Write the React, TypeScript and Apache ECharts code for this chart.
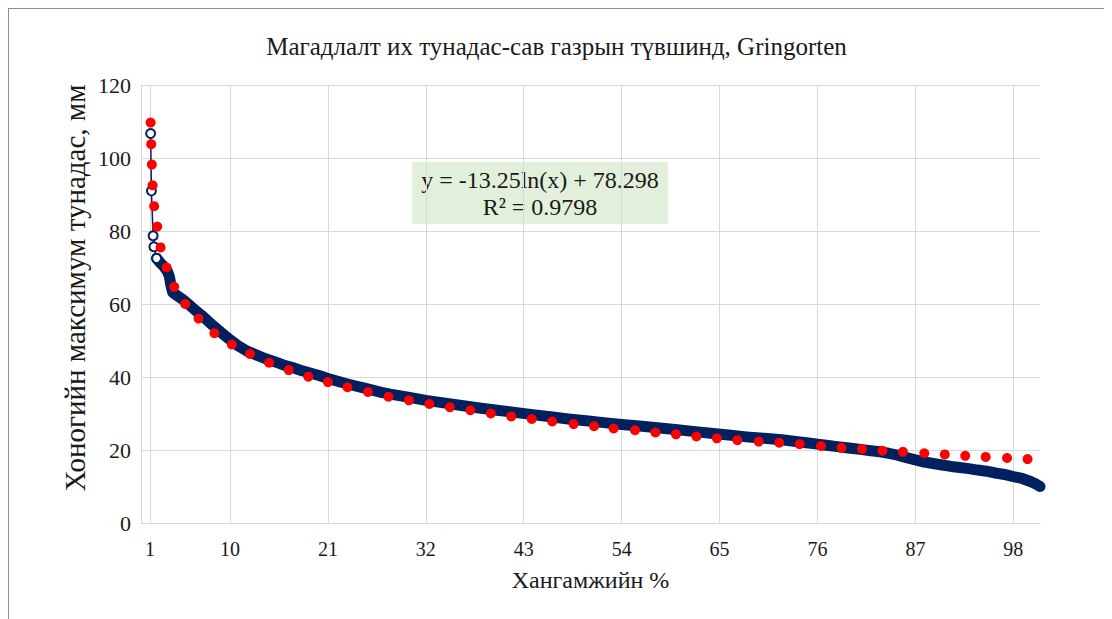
import React, { useEffect, useRef } from 'react';
import * as echarts from 'echarts';

const TITLE = 'Магадлалт их тунадас-сав газрын түвшинд, Gringorten';
const Y_NAME = 'Хоногийн максимум тунадас, мм';
const X_NAME = 'Хангамжийн %';
const EQUATION_LINE1 = 'y = -13.25ln(x) + 78.298';
const EQUATION_LINE2 = 'R² = 0.9798';

// x-axis tick labels (gridlines) and axis range
const X_TICK_LABELS = [1, 10, 21, 32, 43, 54, 65, 76, 87, 98];
const X_MIN = 0;
const X_MAX = 101;
const Y_MIN = 0;
const Y_MAX = 120;
const Y_STEP = 20;

// Observed series (navy): sparse head points
const headX = [1.08, 1.17, 1.36, 1.45, 1.75];
const headY = [106.7, 91.0, 78.7, 75.7, 72.5];

// Observed series (navy): dense body
const bodyX = [
  1.75, 2.2, 2.6, 3.0, 3.2, 3.35, 3.55, 4.0, 4.7, 5.5, 6.0, 7.0, 8.0, 9.0, 10.0, 11.0,
  12, 13, 14, 15, 16, 17, 18, 19, 20, 21, 22, 23, 24, 25, 26, 27, 28, 29, 30,
  32, 34, 36, 38, 40, 42, 44, 46, 48, 50, 52, 54, 56, 58, 60, 62, 64, 66, 68, 70, 72,
  74, 75, 76, 77, 78, 79, 80, 81, 82, 83, 84, 85, 86, 87, 88, 89, 90, 91, 92, 93, 94,
  95, 96, 97, 98, 99, 100, 100.6, 101,
];
const bodyY = [
  72.5, 71.2, 70.2, 68.8, 67.4, 65.2, 63.2, 62.4, 61.2, 59.6, 58.5, 56.5, 54.3, 52.2, 50.2, 48.4,
  47.0, 46.0, 45.0, 44.2, 43.3, 42.6, 41.8, 41.1, 40.4, 39.6, 38.9, 38.2, 37.6, 37.0, 36.4, 35.8, 35.3, 34.9, 34.5,
  33.6, 32.9, 32.2, 31.5, 30.9, 30.3, 29.7, 29.1, 28.5, 28.0, 27.5, 27.0, 26.6, 26.1, 25.6, 25.1, 24.6, 24.1, 23.6, 23.2, 22.8,
  22.2, 21.9, 21.6, 21.3, 21.0, 20.7, 20.4, 20.1, 19.8, 19.5, 19.1, 18.6, 17.9, 17.3, 16.7, 16.3, 15.9, 15.5, 15.2, 14.9, 14.5,
  14.2, 13.7, 13.3, 12.7, 12.2, 11.3, 10.6, 10.0,
];

// Red points
const redX = [
  1.08, 1.15, 1.22, 1.3, 1.48, 1.82, 2.2, 2.88, 3.73, 4.97, 6.47, 8.25, 10.2,
  12.24, 14.4, 16.6, 18.8, 21.0, 23.2, 25.5, 27.8, 30.1, 32.4, 34.7, 37.0, 39.3, 41.6,
  43.9, 46.2, 48.6, 50.9, 53.1, 55.5, 57.8, 60.1, 62.4, 64.7, 67.0, 69.4, 71.7, 74.0,
  76.4, 78.7, 81.0, 83.3, 85.6, 88.0, 90.3, 92.6, 94.9, 97.3, 99.6,
];
const redY = [
  109.7, 103.8, 98.2, 92.5, 86.8, 81.2, 75.5, 70.0, 64.7, 60.0, 56.0, 52.0, 48.9,
  46.3, 43.9, 41.9, 40.1, 38.6, 37.2, 35.9, 34.6, 33.6, 32.6, 31.7, 30.9, 30.0, 29.2,
  28.5, 27.8, 27.1, 26.5, 25.9, 25.4, 24.8, 24.3, 23.7, 23.2, 22.7, 22.3, 22.0, 21.6,
  21.1, 20.6, 20.3, 19.8, 19.5, 19.1, 18.8, 18.4, 18.1, 17.8, 17.5,
];

const NAVY = '#002060';
const RED = '#ff0000';
const GRID = '#d9d9d9';
const TEXT = '#1a1a1a';
const SERIF = 'Liberation Serif';

const pairs = (xs: number[], ys: number[]) => xs.map((x, i) => [x, ys[i]]);

export default function App() {
  const ref = useRef<HTMLDivElement>(null);

  useEffect(() => {
    document.documentElement.style.overflow = 'hidden';
    document.body.style.overflow = 'hidden';
    if (!ref.current) return;
    const chart = echarts.init(ref.current, undefined, { renderer: 'svg' });
    const categories = Array.from({ length: X_MAX - X_MIN + 1 }, (_, i) => String(X_MIN + i));
    const showTick = (index: number) => X_TICK_LABELS.includes(X_MIN + index);

    chart.setOption({
      animation: false,
      textStyle: { fontFamily: SERIF },
      title: {
        text: TITLE,
        left: 'center',
        top: 20,
        textStyle: { fontFamily: SERIF, fontSize: 25, fontWeight: 'normal', color: TEXT },
      },
      grid: { left: 132, right: 64, top: 76, bottom: 88, containLabel: false },
      xAxis: [
        {
          type: 'category',
          data: categories,
          boundaryGap: false,
          name: X_NAME,
          nameLocation: 'middle',
          nameGap: 45,
          nameTextStyle: { fontFamily: SERIF, fontSize: 24, color: TEXT },
          axisLine: { show: true, lineStyle: { color: GRID, width: 1 } },
          axisTick: { show: false, interval: showTick },
          axisLabel: { interval: showTick, margin: 16, fontFamily: SERIF, fontSize: 20, color: TEXT },
          splitLine: { show: true, interval: showTick, lineStyle: { color: GRID, width: 1 } },
        },
        { type: 'value', min: X_MIN, max: X_MAX, show: false, splitLine: { show: false } },
      ],
      yAxis: {
        type: 'value',
        min: Y_MIN,
        max: Y_MAX,
        interval: Y_STEP,
        axisLine: { show: true, lineStyle: { color: GRID, width: 1 } },
        axisTick: { show: false },
        axisLabel: { margin: 10, fontFamily: SERIF, fontSize: 22, color: TEXT },
        splitLine: { show: true, lineStyle: { color: GRID, width: 1 } },
      },
      graphic: [
        {
          type: 'text',
          x: 66,
          y: 279,
          rotation: Math.PI / 2,
          style: {
            text: Y_NAME,
            fontFamily: SERIF,
            fontSize: 29,
            fill: TEXT,
            align: 'center',
            verticalAlign: 'middle',
          },
        },
        {
          type: 'group',
          z: 100,
          children: [
            {
              type: 'rect',
              shape: { x: 403, y: 153, width: 256, height: 62 },
              style: { fill: '#e2efda' },
            },
            {
              type: 'text',
              x: 531,
              y: 184,
              style: {
                text: EQUATION_LINE1 + '\n' + EQUATION_LINE2,
                fontFamily: SERIF,
                fontSize: 24,
                lineHeight: 27,
                fill: TEXT,
                align: 'center',
                verticalAlign: 'middle',
              },
            },
          ],
        },
      ],
      series: [
        {
          type: 'line',
          xAxisIndex: 1,
          data: pairs(bodyX, bodyY),
          showSymbol: false,
          lineStyle: { color: NAVY, width: 11, cap: 'round', join: 'round' },
          z: 2,
        },
        {
          type: 'line',
          xAxisIndex: 1,
          data: pairs(headX, headY),
          symbol: 'emptyCircle',
          symbolSize: 9,
          itemStyle: { color: NAVY, borderColor: NAVY, borderWidth: 1.5 },
          lineStyle: { color: NAVY, width: 1.5 },
          z: 3,
        },
        {
          type: 'scatter',
          xAxisIndex: 1,
          data: pairs(redX, redY),
          symbol: 'circle',
          symbolSize: 10,
          itemStyle: { color: RED, opacity: 1 },
          z: 4,
        },
      ],
    });

    return () => chart.dispose();
  }, []);

  return (
    <div
      style={{
        width: 1110,
        height: 620,
        boxSizing: 'border-box',
        borderTop: '1px solid #7f8fa9',
        borderLeft: '1px solid #7f8fa9',
        background: '#ffffff',
      }}
    >
      <div ref={ref} style={{ width: 1095, height: 602 }} />
    </div>
  );
}
